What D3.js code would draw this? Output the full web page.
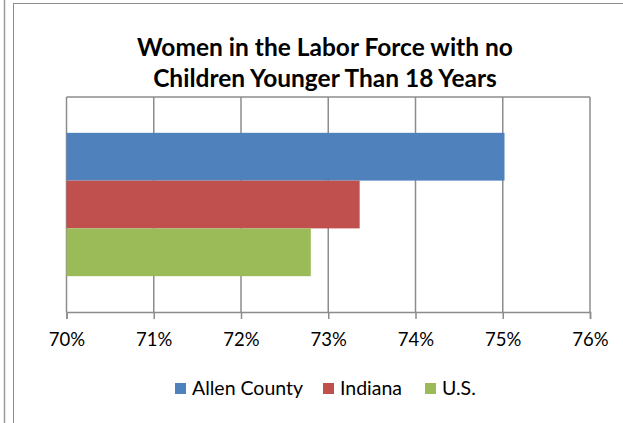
<!DOCTYPE html>
<html><head><meta charset="utf-8">
<script src="https://cdn.jsdelivr.net/npm/d3@7"></script>
<style>
html,body{margin:0;padding:0;background:#fff;}
svg{display:block;}
</style></head>
<body>
<svg id="chart" width="623" height="423"></svg>
<script>
const categories = ["Women"];
const seriesNames = ["Allen County", "Indiana", "U.S."];
const seriesValues = [75.02, 73.36, 72.80];
const seriesColors = ["#4F81BD", "#C0504D", "#9BBB59"];
const tickValues = [70, 71, 72, 73, 74, 75, 76];
const titleLines = ["Women in the Labor Force with no", "Children Younger Than 18 Years"];

const svg = d3.select("#chart");
const FONT = "Lato, 'Liberation Sans', sans-serif";
const grid = "#8c8c8c";

// outer page line and chart border
svg.append("line").attr("x1",4.5).attr("x2",4.5).attr("y1",0).attr("y2",423)
  .attr("stroke","#9a9a9a").attr("stroke-width",1.5);
svg.append("rect").attr("x",13.5).attr("y",3.5).attr("width",640).attr("height",440)
  .attr("fill","#fff").attr("stroke","#8c8c8c").attr("stroke-width",1);

const plot = {left:66.5, right:590, top:97, bottom:312};

const x = d3.scaleLinear().domain([70,76]).range([plot.left, plot.right]);
const y0 = d3.scaleBand().domain(categories).range([plot.top, plot.bottom]).paddingInner(0).paddingOuter(0.25);
const y1 = d3.scaleBand().domain(seriesNames).range([0, y0.bandwidth()]).padding(0);

// title
const title = svg.append("text").attr("x",325).attr("text-anchor","middle")
  .attr("font-family",FONT).attr("font-weight","bold").attr("font-size",24.5).attr("fill","#000");
titleLines.forEach((t,i)=>{
  title.append("tspan").attr("x",325).attr("y",56+i*31).text(t);
});

// gridlines
svg.append("g").selectAll("line").data(tickValues).join("line")
  .attr("x1",d=>x(d)).attr("x2",d=>x(d)).attr("y1",plot.top).attr("y2",plot.bottom)
  .attr("stroke",grid).attr("stroke-width",1.5);
// top border
svg.append("line").attr("x1",plot.left).attr("x2",plot.right).attr("y1",plot.top).attr("y2",plot.top)
  .attr("stroke",grid).attr("stroke-width",1.5);

// bars
const data = seriesNames.map((s,i)=>({name:s, value:seriesValues[i], color:seriesColors[i], cat:categories[0]}));
svg.append("g").selectAll("rect").data(data).join("rect")
  .attr("x",x(70))
  .attr("y",d=>y0(d.cat)+y1(d.name))
  .attr("width",d=>x(d.value)-x(70))
  .attr("height",y1.bandwidth())
  .attr("fill",d=>d.color);

// x axis
const xAxis = d3.axisBottom(x).tickValues(tickValues).tickFormat(d=>d+"%").tickSize(7).tickPadding(14);
const ax = svg.append("g").attr("transform",`translate(0,${plot.bottom})`).call(xAxis);
ax.select(".domain").attr("stroke",grid).attr("stroke-width",1.5);
ax.selectAll(".tick line").attr("stroke",grid).attr("stroke-width",1.5);
ax.selectAll(".tick text").attr("font-family",FONT).attr("font-size",18.5).attr("fill","#000");

// legend
const legendX = [175, 323, 425];
const lg = svg.append("g").selectAll("g").data(data).join("g")
  .attr("transform",(d,i)=>`translate(${legendX[i]},383)`);
lg.append("rect").attr("width",11).attr("height",11).attr("fill",d=>d.color);
lg.append("text").attr("x",17).attr("y",11.5).attr("font-family",FONT).attr("font-size",19.5)
  .attr("fill","#000").text(d=>d.name);
</script>
</body></html>
